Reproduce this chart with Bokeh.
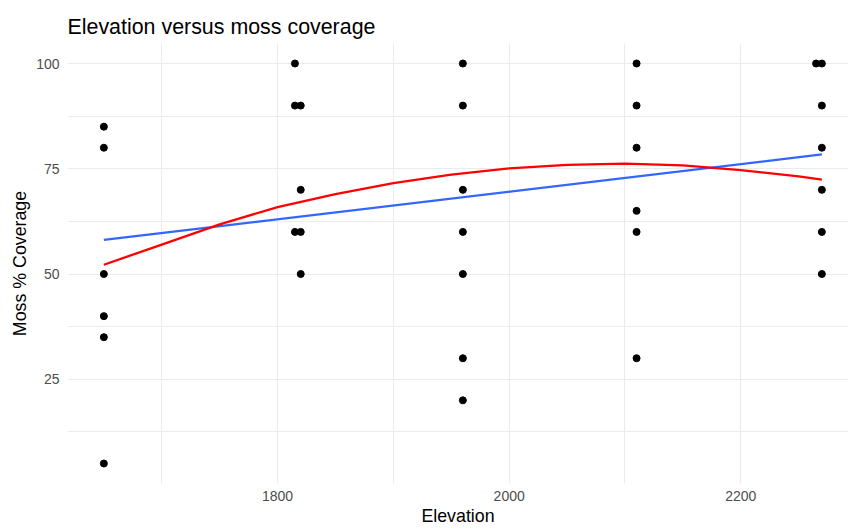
from bokeh.plotting import figure
from bokeh.models import FixedTicker, Range1d, ColumnDataSource
from bokeh.embed import file_html
from bokeh.resources import INLINE

# --- data ---
elevation = [1650, 1650, 1650, 1650, 1650, 1650,
             1815, 1815, 1815,
             1820, 1820, 1820, 1820,
             1960, 1960, 1960, 1960, 1960, 1960, 1960,
             2110, 2110, 2110, 2110, 2110, 2110,
             2265,
             2270, 2270, 2270, 2270, 2270, 2270]
moss = [85, 80, 50, 40, 35, 5,
        100, 90, 60,
        90, 70, 60, 50,
        100, 90, 70, 60, 50, 30, 20,
        100, 90, 80, 65, 60, 30,
        100,
        100, 90, 80, 70, 60, 50]

# linear fit (blue) endpoints
lm_x = [1650, 2270]
lm_y = [58.1, 78.4]

# smooth curve (red)
smooth_x = [1650, 1700, 1750, 1800, 1850, 1900, 1950, 2000, 2050, 2100, 2150, 2200, 2250, 2270]
smooth_y = [52.2, 57.0, 61.8, 65.9, 69.0, 71.6, 73.6, 75.1, 75.9, 76.2, 75.8, 74.7, 73.2, 72.4]

x_major = [1800, 2000, 2200]
x_minor = [1700, 1900, 2100]
y_major = [25, 50, 75, 100]
y_minor = [12.5, 37.5, 62.5, 87.5]

title_text = "Elevation versus moss coverage"
x_title = "Elevation"
y_title = "Moss % Coverage"

FONT = "Liberation Sans"

p = figure(width=848, height=529,
           x_range=Range1d(1618.6, 2293), y_range=Range1d(0.25, 104.75),
           output_backend="svg", toolbar_location=None,
           min_border_left=67, min_border_right=0, min_border_top=43, min_border_bottom=46,
           title=title_text)

p.outline_line_color = None
p.background_fill_color = "white"
p.border_fill_color = "white"

p.title.text_font = FONT
p.title.text_font_size = "21.4px"
p.title.text_font_style = "normal"
p.title.text_color = "#000000"
p.title.align = "left"
p.title.offset = 0

p.xaxis.ticker = FixedTicker(ticks=x_major, minor_ticks=x_minor)
p.yaxis.ticker = FixedTicker(ticks=y_major, minor_ticks=y_minor)

for ax in (p.xaxis[0], p.yaxis[0]):
    ax.axis_line_color = None
    ax.major_tick_line_color = None
    ax.minor_tick_line_color = None
    ax.major_tick_out = 0
    ax.major_tick_in = 0
    ax.minor_tick_out = 0
    ax.minor_tick_in = 0
    ax.major_label_text_font = FONT
    ax.major_label_text_font_size = "14px"
    ax.major_label_text_color = "#4D4D4D"
    ax.axis_label_text_font = FONT
    ax.axis_label_text_font_size = "17.8px"
    ax.axis_label_text_font_style = "normal"
    ax.axis_label_text_color = "#000000"

p.xaxis.axis_label = x_title
p.yaxis.axis_label = y_title
p.xaxis.major_label_standoff = 7
p.xaxis.axis_label_standoff = 2
p.yaxis.major_label_standoff = 8
p.yaxis.axis_label_standoff = 3

for g in (p.xgrid[0], p.ygrid[0]):
    g.grid_line_color = "#EBEBEB"
    g.grid_line_width = 1.1
    g.minor_grid_line_color = "#EBEBEB"
    g.minor_grid_line_width = 1.0

src = ColumnDataSource(dict(elevation=elevation, moss=moss))
p.scatter("elevation", "moss", source=src, size=7, color="black")

p.line(lm_x, lm_y, line_color="#3366FF", line_width=2.3)
p.line(smooth_x, smooth_y, line_color="#FF0000", line_width=2.3)

open("out.html", "w").write(file_html(p, INLINE))
